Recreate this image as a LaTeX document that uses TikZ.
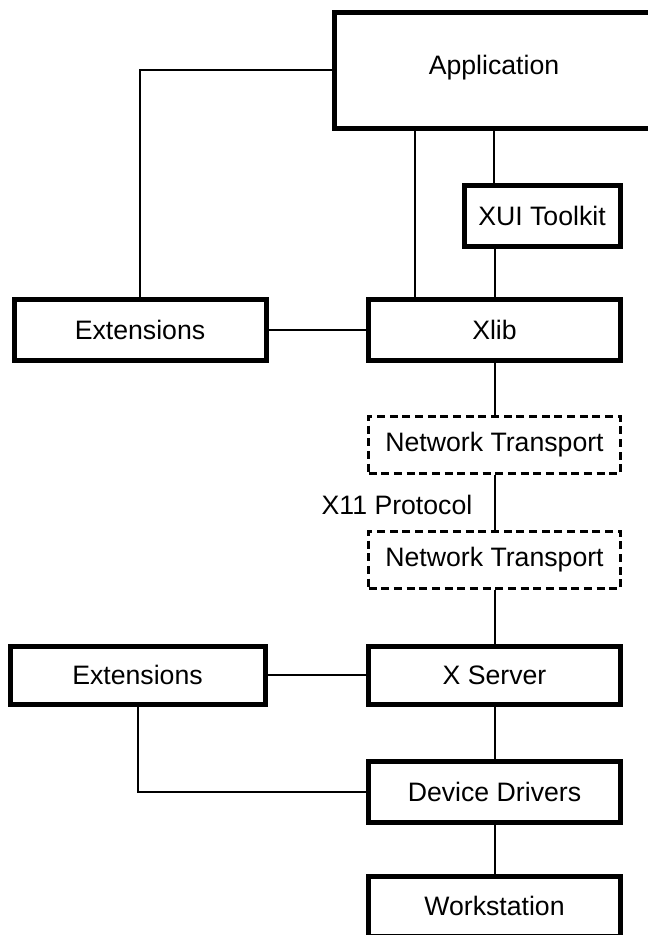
\documentclass[tikz,border=0pt]{standalone}
\usepackage{fontspec}
\setmainfont{Liberation Sans}
\usepackage{tikz}
\usetikzlibrary{positioning}

\begin{document}
\begin{tikzpicture}[x=0.75pt, y=-0.75pt,
  tag/.style={font=\fontsize{20}{24}\selectfont},
  layer/.style={tag, draw, line width=3.75pt, inner sep=0pt, minimum width=189pt, minimum height=45.75pt},
  transport/.style={layer, line width=2.25pt, dash pattern=on 6pt off 3.5pt, minimum height=42.75pt},
  wire/.style={line width=1.5pt}]
  \useasboundingbox (0,0) rectangle (647,935);
  \node[layer, minimum width=240pt, minimum height=87pt] (app) at (494,70) {};
  \node[tag] (apptext) at (494,68) {Application};
  \node[layer, minimum width=117pt] (xui) at (542,215.5) {XUI Toolkit};
  \node[layer] (extc) at (140,329.5) {Extensions};
  \node[layer] (xlib) at (494.5,329.5) {Xlib};
  \node[transport] (ntc) at (494.5,445) {Network Transport};
  \node[tag] (proto) at (397,505) {X11 Protocol};
  \node[transport] (nts) at (494.5,560) {Network Transport};
  \node[layer, minimum width=191.25pt, minimum height=43.5pt] (exts) at (137.5,675) {Extensions};
  \node[layer, minimum height=43.5pt] (xsrv) at (494.5,675) {X Server};
  \node[layer] (drv) at (494.5,791.5) {Device Drivers};
  \node[layer, minimum height=45pt] (wks) at (494.5,906) {Workstation};

  \draw[wire] (app.west) -| (extc.north);
  \path (xlib.north) ++(-80,0) coordinate (xa);
  \draw[wire] (xa) -- (xa |- app.south);
  \draw[wire] (app.south) -- (app.south |- xui.north);
  \draw[wire] (xlib.north) -- (xlib.north |- xui.south);
  \draw[wire] (extc.east) -- (xlib.west);
  \draw[wire] (xlib.south) -- (ntc.north);
  \draw[wire] (ntc.south) -- (nts.north);
  \draw[wire] (nts.south) -- (xsrv.north);
  \draw[wire] (exts.east) -- (xsrv.west);
  \draw[wire] (xsrv.south) -- (drv.north);
  \draw[wire] (exts.south) |- (drv.west);
  \draw[wire] (drv.south) -- (wks.north);
\end{tikzpicture}
\end{document}
